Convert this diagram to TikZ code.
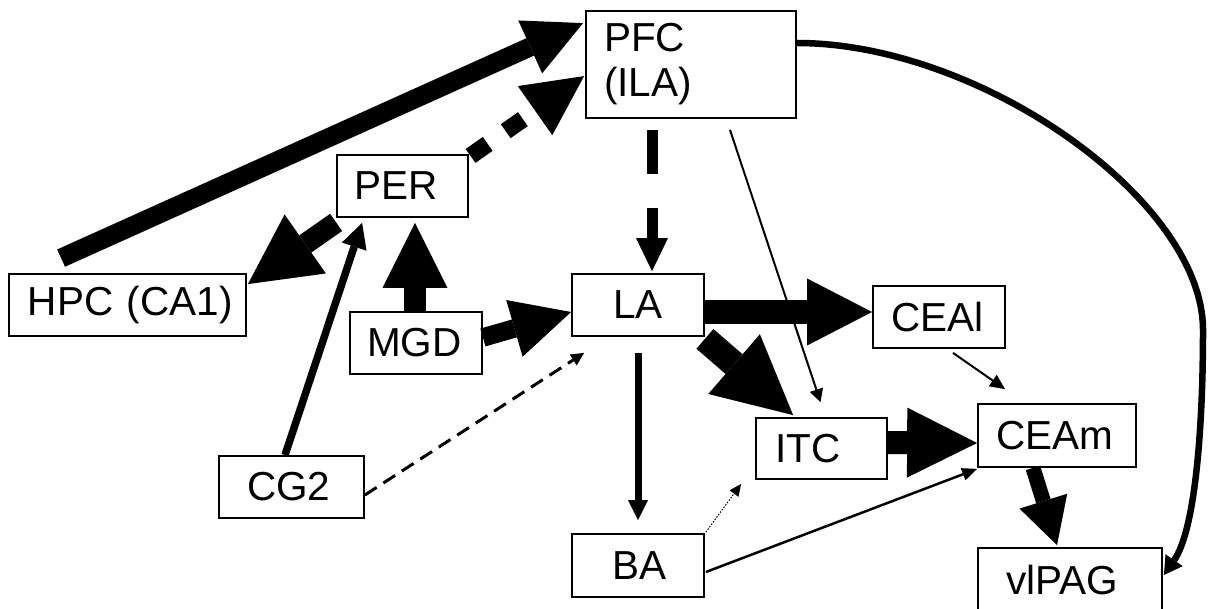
\documentclass[tikz,border=0pt]{standalone}
\usepackage{fontspec}
\setmainfont{Liberation Sans}
\usetikzlibrary{arrows.meta,calc}
\begin{document}
\begin{tikzpicture}[x=1pt,y=-1pt,
  box/.style={draw,line width=1.8pt,inner sep=0pt,align=left,font=\fontsize{40.5}{45}\selectfont},
  arr/.style n args={3}{line width=#1,-{Triangle[length=#2,width=#3,line width=0pt]}}]
\useasboundingbox (0,0) rectangle (1214,609);
\clip (0,0) rectangle (1214,609);

\node[box,text width=210pt,minimum height=107pt] (PFC) at (691,64.5) {\hspace*{18pt}PFC\\\hspace*{18pt}(ILA)};
\node[box,text width=131pt,minimum height=62pt] (PER) at (402.5,186) {\hspace*{17pt}PER};
\node[box,text width=237pt,minimum height=62pt] (HPC) at (127.5,305) {\hspace*{19pt}HPC (CA1)};
\node[box,text width=132pt,minimum height=62pt] (MGD) at (416,343) {\hspace*{17pt}MGD};
\node[box,text width=145pt,minimum height=62pt] (CG2) at (291.5,487) {\hspace*{28pt}CG2};
\node[box,text width=132pt,minimum height=62pt] (LA) at (638,305) {\hspace*{41pt}LA};
\node[box,text width=132pt,minimum height=63pt] (BA) at (638,565.5) {\hspace*{40pt}BA};
\node[box,text width=131pt,minimum height=61pt] (ITC) at (821.5,448.5) {\hspace*{19pt}ITC};
\node[box,text width=132pt,minimum height=62pt] (CEAl) at (939,317) {\hspace*{18pt}CEAl};
\node[box,text width=158pt,minimum height=63pt] (CEAm) at (1057,435.5) {\hspace*{18pt}CEAm};
\node[box,text width=184pt,minimum height=64pt] (vlPAG) at (1070,580) {\hspace*{28pt}vlPAG};

\draw[arr={19pt}{58pt}{58pt}] ($(HPC.north west)+(53,-15)$) -- ($(PFC.north west)+(-2,13)$);
\draw[arr={17pt}{60pt}{60pt}, dash pattern=on 0pt off 2pt on 21pt off 20pt] ($(PER.north east)+(0,3)$) -- ($(PFC.north west)+(-1,66)$);
\draw[arr={21pt}{70pt}{72pt}] ($(PER.south west)+(0,4.5)$) -- ($(HPC.north east)+(1,11)$);
\draw[arr={7.5pt}{25pt}{26pt}] ($(CG2.north)+(-6.5,0)$) -- ($(PER.south west)+(26,5)$);
\draw[arr={22pt}{65pt}{65pt}] ($(MGD.north)+(-1,0)$) -- ($(PER.south)+(12.5,5)$);
\draw[arr={18.5pt}{59pt}{59pt}] ($(MGD.east)+(0,-5.5)$) -- ($(LA.west)+(0,7)$);
\draw[arr={3pt}{13pt}{13pt}, dash pattern=on 14pt off 8pt] ($(CG2.east)+(0,8)$) -- ($(LA.south west)+(13,16)$);
\draw[arr={11pt}{33pt}{32pt}, dash pattern=on 44pt off 34pt] ($(PFC.south)+(-39,11)$) -- ($(LA.north)+(14,-2)$);
\draw[arr={2pt}{13pt}{14pt}] ($(PFC.south)+(39,11)$) -- ($(ITC.north)+(-1,-15)$);
\draw[arr={23pt}{65pt}{67pt}] ($(LA.east)+(0,7)$) -- ($(CEAl.west)+(0,-5)$);
\draw[arr={26pt}{78pt}{79pt}] ($(LA.south east)+(0,2)$) -- ($(ITC.north west)+(38,-2)$);
\draw[arr={7pt}{20pt}{20pt}] ($(LA.south)+(0,16)$) -- ($(BA.north)+(0,-13)$);
\draw[arr={1pt}{12pt}{11pt}, dash pattern=on 1.5pt off 1.5pt] ($(BA.north east)+(1,-1)$) -- ($(ITC.south west)+(-14,4)$);
\draw[arr={2.5pt}{15pt}{13pt}] ($(BA.east)+(1,6.5)$) -- ($(CEAm.south west)+(0,1)$);
\draw[arr={23pt}{70pt}{70pt}] ($(ITC.east)+(0,-6)$) -- ($(CEAm.west)+(0,7.5)$);
\draw[arr={2pt}{15pt}{14pt}] ($(CEAl.south)+(14,4)$) -- ($(CEAm.north)+(-52,-14)$);
\draw[arr={15pt}{46pt}{50pt}] ($(CEAm.south)+(-24,0)$) -- ($(vlPAG.north)+(-13,-2)$);
\coordinate (bend) at (1203,330);
\draw[arr={6.5pt}{18pt}{21pt}] ($(PFC.east)+(0,-21.5)$) .. controls (980,43) and (1203,200) .. (bend) .. controls (1203,430) and (1195,530) .. ($(vlPAG.east)+(1,-5)$);
\end{tikzpicture}
\end{document}
